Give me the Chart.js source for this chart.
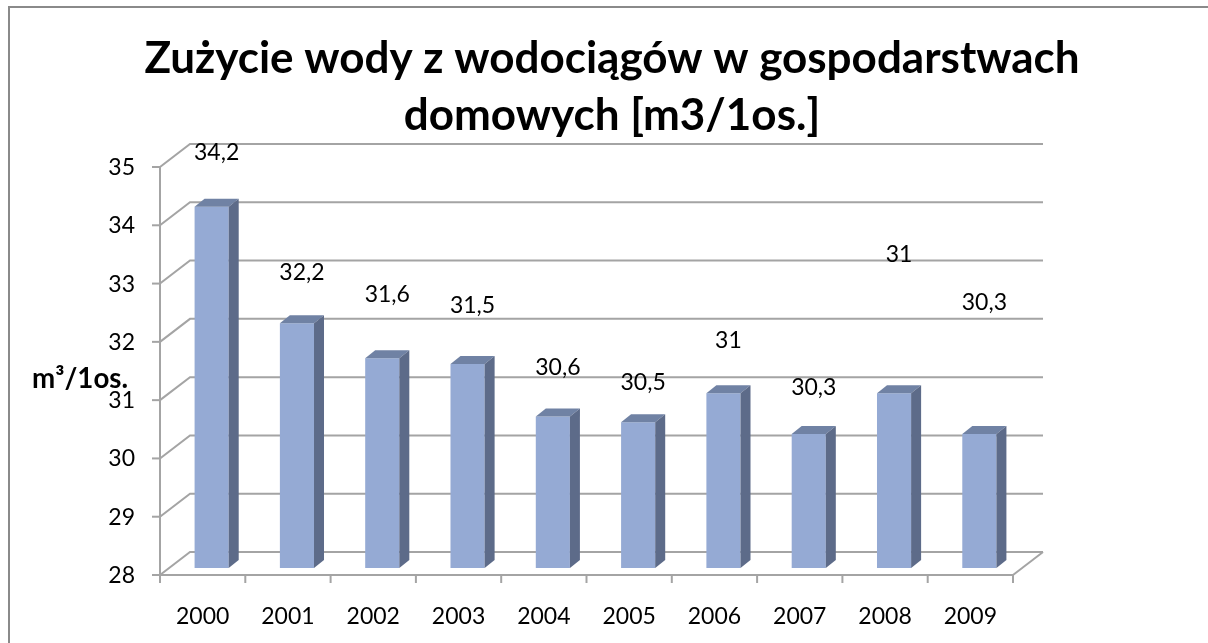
<!DOCTYPE html>
<html>
<head>
<meta charset="utf-8">
<script src="https://cdn.jsdelivr.net/npm/chart.js@4.4.0/dist/chart.umd.min.js"></script>
<style>
    html, body { margin: 0; padding: 0; background: #ffffff; }
    #wrap { width: 1208px; height: 643px; }
</style>
</head>
<body>
<div id="wrap"><canvas id="myChart" width="1208" height="643"></canvas></div>
<script>
// chart data
var years = ['2000', '2001', '2002', '2003', '2004', '2005', '2006', '2007', '2008', '2009'];
var usage = [34.2, 32.2, 31.6, 31.5, 30.6, 30.5, 31, 30.3, 31, 30.3];
var yTicks = [28, 29, 30, 31, 32, 33, 34, 35];
var titleLines = ['Zużycie wody z wodociągów w gospodarstwach', 'domowych [m3/1os.]'];
var yTitle = 'm³/1os.';

// look of the fake 3D
var wallDX = 30, wallDY = -23;     // back wall offset from front axis
var barDX = 9, barDY = -7;         // bar front face offset
var sideDX = 10, sideDY = -8;      // bar depth
var gridColor = '#a4a4a4';
var frontColor = '#95aad4';
var topColor = '#7082a4';
var sideColor = '#5d6b89';
var tickFont = '23px Lato';
// Excel placed the value labels a bit randomly, keep that
var labelRise = [-47, -43, -56, -51, -41, -32, -45, -39, -131, -124];

function fmt(v) {
    return String(v).replace('.', ',');
}

var threeD = {
    id: 'threeD',
    beforeDraw: function (chart) {
        var ctx = chart.ctx;
        var xs = chart.scales.x, ys = chart.scales.y;
        ctx.save();
        ctx.fillStyle = '#ffffff';
        ctx.fillRect(0, 0, chart.width, chart.height);

        // outer frame (right/bottom run off the picture)
        ctx.strokeStyle = '#8a8a8a';
        ctx.lineWidth = 2;
        ctx.strokeRect(9, 7, 1220, 660);

        // title
        ctx.fillStyle = '#000000';
        ctx.font = 'bold 100px Lato';
        var w = ctx.measureText(titleLines[0]).width;
        var size = 100 * 936 / w;
        ctx.font = 'bold ' + size.toFixed(1) + 'px Lato';
        ctx.textAlign = 'center';
        ctx.textBaseline = 'alphabetic';
        ctx.fillText(titleLines[0], 612, 73);
        ctx.fillText(titleLines[1], 612, 130);

        // back wall grid + left wall diagonals
        ctx.strokeStyle = gridColor;
        ctx.lineWidth = 2;
        for (let i = 0; i < yTicks.length; i++) {
            var y = ys.getPixelForValue(yTicks[i]);
            ctx.beginPath();
            ctx.moveTo(xs.left, y);
            ctx.lineTo(xs.left + wallDX, y + wallDY);
            ctx.lineTo(xs.right + wallDX, y + wallDY);
            ctx.stroke();
        }
        // floor right edge
        var yb = ys.getPixelForValue(yTicks[0]);
        ctx.beginPath();
        ctx.moveTo(xs.right, yb);
        ctx.lineTo(xs.right + wallDX, yb + wallDY);
        ctx.stroke();
        ctx.restore();
    },
    beforeDatasetsDraw: function (chart) {
        chart.ctx.save();
        chart.ctx.translate(barDX, barDY);
    },
    afterDatasetsDraw: function (chart) {
        var ctx = chart.ctx;
        var ys = chart.scales.y;
        var meta = chart.getDatasetMeta(0);
        meta.data.forEach(function (bar) {
            var l = bar.x - bar.width / 2, r = bar.x + bar.width / 2;
            var t = bar.y, b = Math.min(bar.base, ys.bottom);
            // top face
            ctx.fillStyle = topColor;
            ctx.beginPath();
            ctx.moveTo(l, t);
            ctx.lineTo(l + sideDX, t + sideDY);
            ctx.lineTo(r + sideDX, t + sideDY);
            ctx.lineTo(r, t);
            ctx.closePath();
            ctx.fill();
            // side face
            ctx.fillStyle = sideColor;
            ctx.beginPath();
            ctx.moveTo(r, t);
            ctx.lineTo(r + sideDX, t + sideDY);
            ctx.lineTo(r + sideDX, b + sideDY);
            ctx.lineTo(r, b);
            ctx.closePath();
            ctx.fill();
        });
        ctx.restore();
    },
    afterDraw: function (chart) {
        var ctx = chart.ctx;
        var xs = chart.scales.x, ys = chart.scales.y;
        var yb = ys.getPixelForValue(yTicks[0]);
        var yt = ys.getPixelForValue(yTicks[yTicks.length - 1]);
        ctx.save();
        ctx.strokeStyle = gridColor;
        ctx.lineWidth = 2;

        // front axes
        ctx.beginPath();
        ctx.moveTo(xs.left, yt);
        ctx.lineTo(xs.left, yb);
        ctx.lineTo(xs.right, yb);
        ctx.stroke();

        ctx.fillStyle = '#000000';
        ctx.font = tickFont;
        ctx.textBaseline = 'alphabetic';

        // y ticks
        ctx.textAlign = 'right';
        yTicks.forEach(function (v) {
            var y = ys.getPixelForValue(v);
            ctx.beginPath();
            ctx.moveTo(xs.left - 8, y);
            ctx.lineTo(xs.left, y);
            ctx.stroke();
            ctx.fillText(String(v), xs.left - 25, y + 8);
        });

        // x ticks
        var half = (xs.getPixelForValue(1) - xs.getPixelForValue(0)) / 2;
        ctx.textAlign = 'center';
        for (let i = 0; i <= years.length; i++) {
            var x = xs.getPixelForValue(0) - half + i * half * 2;
            ctx.beginPath();
            ctx.moveTo(x, yb);
            ctx.lineTo(x, yb + 8);
            ctx.stroke();
        }
        years.forEach(function (yr, i) {
            ctx.fillText(yr, xs.getPixelForValue(i), yb + 49);
        });

        // value labels
        var meta = chart.getDatasetMeta(0);
        meta.data.forEach(function (bar, i) {
            ctx.fillText(fmt(usage[i]), bar.x + barDX + 5, bar.y + barDY + labelRise[i]);
        });

        // axis title
        ctx.font = 'bold 100px Lato';
        var w = ctx.measureText(yTitle).width;
        ctx.font = 'bold ' + (100 * 96 / w).toFixed(1) + 'px Lato';
        ctx.textAlign = 'left';
        ctx.fillText(yTitle, 32, 388);
        ctx.restore();
    }
};

var ctx = document.getElementById('myChart').getContext('2d');
var myChart = new Chart(ctx, {
    type: 'bar',
    data: {
        labels: years,
        datasets: [{
            data: usage,
            backgroundColor: frontColor,
            borderWidth: 0,
            barPercentage: 0.4,
            categoryPercentage: 1
        }]
    },
    options: {
        responsive: false,
        animation: false,
        devicePixelRatio: 1,
        layout: {
            padding: { left: 160, right: 195, top: 167, bottom: 68 }
        },
        scales: {
            x: { display: false },
            y: { display: false, min: 28, max: 35 }
        },
        plugins: {
            legend: { display: false },
            title: { display: false },
            tooltip: { enabled: false }
        }
    },
    plugins: [threeD]
});
</script>
</body>
</html>
